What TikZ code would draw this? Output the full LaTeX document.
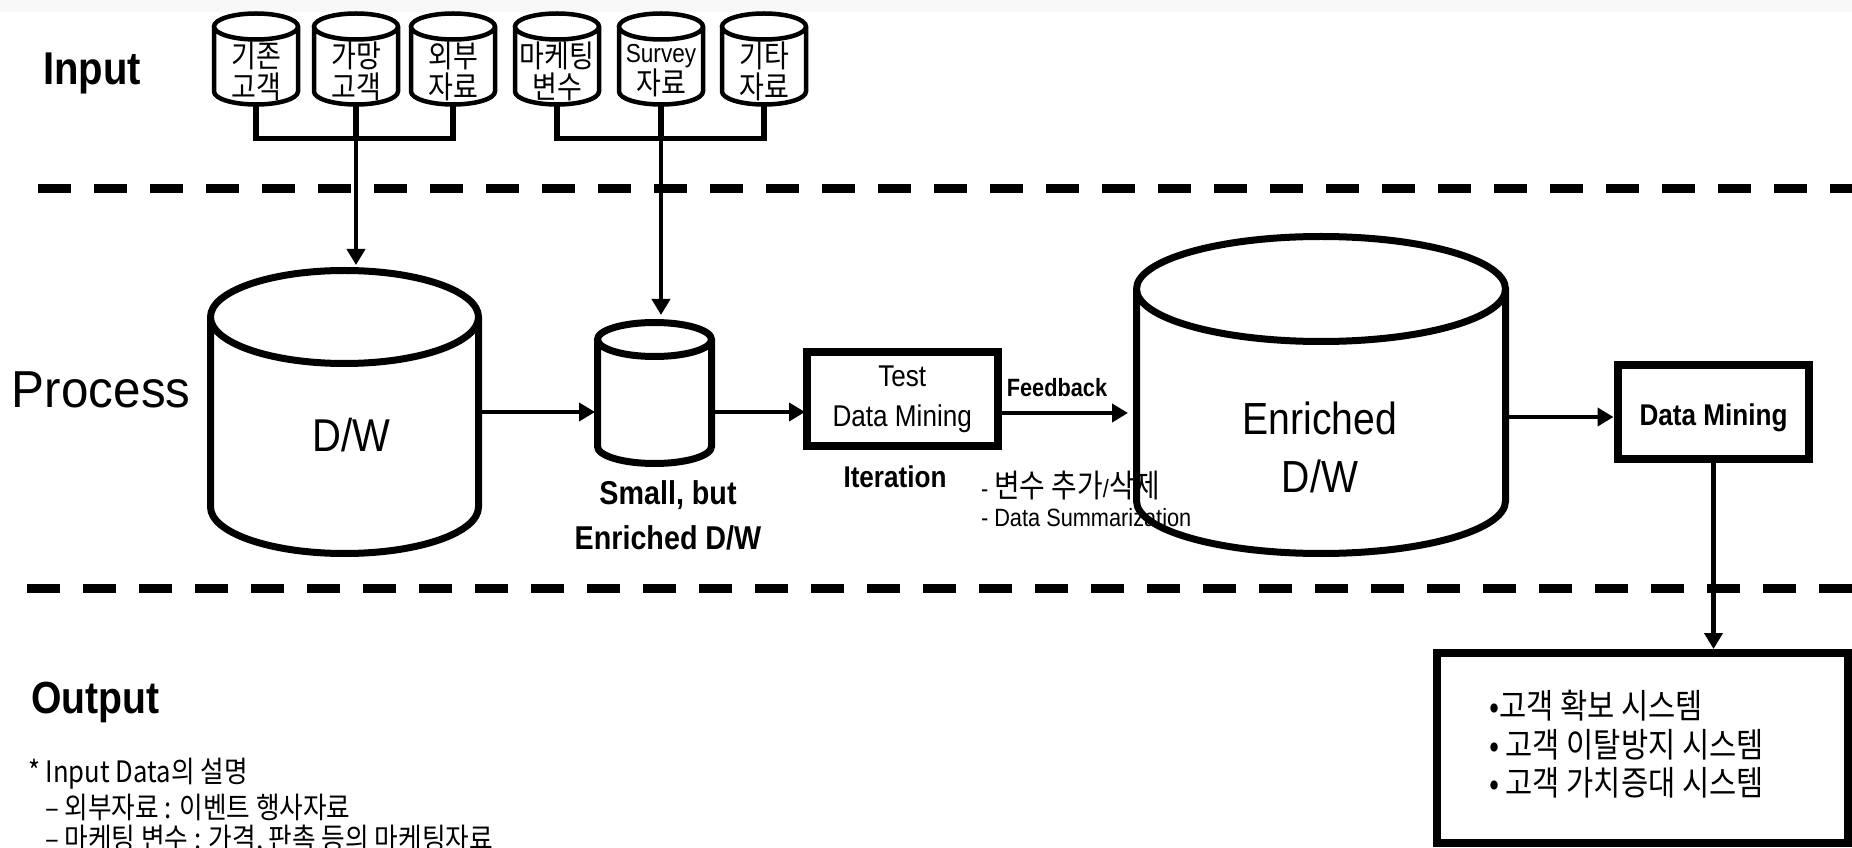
\documentclass[tikz,border=0pt]{standalone}
\usepackage{fontspec}
\setmainfont[FakeStretch=0.87]{Liberation Sans}
\newfontfamily\procfont[FakeStretch=0.95]{Liberation Sans}
\newfontfamily\kr[FakeStretch=0.87]{Noto Sans CJK KR}
\usetikzlibrary{arrows.meta,calc}
\definecolor{strip}{HTML}{F8F8F8}
\newcommand\fs[1]{\fontsize{#1}{#1}\selectfont}
\newcommand\mkcyl[7]{%
  \node[cylbox,minimum width=#5*2pt,minimum height={(#3-#4)*1pt}] (#1) at (#2,{(#3+#4)/2}) {};
  \draw[#7] ({#2-#5},{#3-#6}) -- ({#2-#5},{#4+#6})
    arc[start angle=180,end angle=360,x radius=#5,y radius=#6]
    -- ({#2+#5},{#3-#6})
    arc[start angle=0,end angle=180,x radius=#5,y radius=#6]
    arc[start angle=180,end angle=360,x radius=#5,y radius=#6];}
\begin{document}
\begin{tikzpicture}[x=1pt,y=1pt,
  cylbox/.style={rectangle,inner sep=0pt,outer sep=0pt},
  conn/.style={line width=5.5pt},
  arr/.style={line width=4.5pt,-{Triangle[width=18pt,length=16pt]}},
  divider/.style={line width=9pt,dash pattern=on 33pt off 23pt},
  boxnode/.style={draw,line width=8pt,inner sep=0pt,outer sep=0pt,align=center},
  lbl/.style={inner sep=0pt,outer sep=0pt},
  cyltext/.style={lbl,align=center,font=\kr\fontsize{31}{31}\selectfont},
  smallcyl/.style={line width=4.5pt},
  bigcyl/.style={line width=7pt}]
\useasboundingbox (0,0) rectangle (1852,847);
\fill[strip] (0,835) rectangle (1852,847);

% dividers
\draw[divider] (38,658.5) -- (1852,658.5);
\draw[divider] (27,258.5) -- (1852,258.5);

% section labels
\node[lbl,font=\bfseries\fs{46},anchor=base west] (inp) at (43,762) {Input};
\node[lbl,font=\procfont\fs{52},anchor=base west] (proc) at (12,439) {Process};
\node[lbl,font=\bfseries\fs{45},anchor=base west] (outp) at (31,134) {Output};

% input cylinders
\mkcyl{c1}{256}{833.5}{742.5}{42}{13}{smallcyl}
\mkcyl{c2}{356}{833.5}{742.5}{42}{13}{smallcyl}
\mkcyl{c3}{453}{833.5}{742.5}{42}{13}{smallcyl}
\mkcyl{c4}{557}{833.5}{742.5}{42}{13}{smallcyl}
\mkcyl{c5}{661}{833.5}{742.5}{42}{13}{smallcyl}
\mkcyl{c6}{764}{833.5}{742.5}{42}{13}{smallcyl}
\node[cyltext] (t1) at (256,776) {기존\\고객};
\node[cyltext] (t2) at (356,776) {가망\\고객};
\node[cyltext] (t3) at (453,776) {외부\\자료};
\node[cyltext] (t4) at (557,776) {마케팅\\변수};
\node[cyltext] (t5) at (661,776) {{\rmfamily\fs{26}Survey}\\자료};
\node[cyltext] (t6) at (764,776) {기타\\자료};

\coordinate (barL) at (356,708.5);
\coordinate (barR) at (661,708.5);
\draw[conn] (c1.south) |- (barL) -| (c3.south);
\draw[conn] (c2.south) -- (barL);
\draw[conn] (c4.south) |- (barR) -| (c6.south);
\draw[conn] (c5.south) -- (barR);

% process row
\mkcyl{dw}{344.5}{576.5}{293.5}{134}{46.5}{bigcyl}
\node[lbl,font=\fs{46}] (dwt) at (351,412) {D/W};
\mkcyl{sc}{654.5}{524.5}{383.5}{57}{17}{bigcyl}
\node[lbl,align=center,font=\bfseries\fontsize{33}{45}\selectfont] (sct) at (668,331.5) {Small, but\\Enriched D/W};
\node[boxnode,minimum width=191.5pt,minimum height=94pt,font=\fontsize{30}{40}\selectfont] (test) at (902.25,448) {Test\\Data Mining};
\node[lbl,font=\bfseries\fs{25}] (fb) at (1057,459) {Feedback};
\node[lbl,font=\bfseries\fs{30}] (it) at (895,370) {Iteration};
\node[lbl,anchor=west,font=\fs{25}] (n1) at (981,361) {- {\kr\fs{32}변수 추가}/{\kr\fs{32}삭제}};
\node[lbl,anchor=west,font=\fs{25}] (n2) at (981,329) {- Data Summarization};
\node[lbl,align=center,font=\fontsize{45}{58}\selectfont] (enrt) at (1320,400) {Enriched\\D/W};
\mkcyl{enr}{1321}{610.5}{293.5}{184.5}{52.5}{bigcyl}
\node[boxnode,minimum width=191pt,minimum height=94pt] (dm) at (1713.5,435) {};
\node[lbl,font=\bfseries\fs{30}] (dmt) at (1713.5,429) {Data Mining};
\node[boxnode,minimum width=411pt,minimum height=190pt] (out) at (1642.5,99) {};
\node[lbl,anchor=west,align=left,font=\kr\fontsize{34}{38.5}\selectfont] (bl) at (1489,102.5) {•고객 확보 시스템\\• 고객 이탈방지 시스템\\• 고객 가치증대 시스템};

% connectors
\coordinate (rowA) at (0,435);
\coordinate (rowB) at (0,434);
\coordinate (rowC) at (0,430);
\draw[arr,shorten >=5.5pt] (barL) -- (barL |- dw.north);
\draw[arr,shorten >=7.5pt] (barR) -- (barR |- sc.north);
\draw[arr,shorten >=2.5pt] (dw.east) -- (dw.east -| sc.west);
\draw[arr,shorten >=1.5pt] (sc.east |- rowA) -- (test.west |- rowA);
\draw[arr,shorten >=8.5pt] (test.east |- rowB) -- (enr.west |- rowB);
\draw[arr,shorten >=4.5pt] (enr.east |- rowC) -- (dm.west |- rowC);
\draw[arr,shorten >=4pt] (dm.south) -- (dm.south |- out.north);

% description
\node[lbl,anchor=west,font=\kr\fs{29.5}] (d1) at (28,73) {* Input Data의 설명};
\node[lbl,anchor=west,font=\kr\fs{29.5}] (d2) at (45,40) {– 외부자료 : 이벤트 행사자료};
\node[lbl,anchor=west,font=\kr\fs{29.5}] (d3) at (45,7) {– 마케팅 변수 : 가격, 판촉 등의 마케팅자료};
\end{tikzpicture}
\end{document}
